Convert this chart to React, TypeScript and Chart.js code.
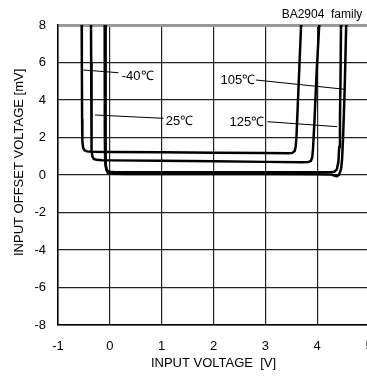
import React, { useEffect, useRef } from "react";
import { Chart, registerables } from "chart.js";

Chart.register(...registerables);

const FONT = "'Liberation Sans', Arial, sans-serif";

const xTickValues = [-1, 0, 1, 2, 3, 4, 5];
const yTickValues = [-8, -6, -4, -2, 0, 2, 4, 6, 8];

const chartTitle = "BA2904  family  ";
const xAxisTitle = "INPUT VOLTAGE  [V]";
const yAxisTitle = "INPUT OFFSET VOLTAGE [mV]";

// -40℃
const m40X = [-0.545, -0.54, -0.535, -0.53, -0.515, -0.49, -0.44, -0.35, 0, 1, 2, 3, 3.45, 3.52, 3.565, 3.585, 3.6, 3.63, 3.66, 3.69, 3.695];
const m40Y = [9, 6, 3, 1.8, 1.45, 1.32, 1.26, 1.24, 1.23, 1.21, 1.19, 1.17, 1.16, 1.18, 1.28, 1.5, 2, 4, 6, 8, 9];
// 25℃
const p25X = [-0.365, -0.36, -0.355, -0.35, -0.335, -0.31, -0.26, -0.15, 0, 1, 2, 3, 3.7, 3.83, 3.88, 3.905, 3.92, 3.95, 3.99, 4.04, 4.045];
const p25Y = [9, 6, 3, 1.3, 0.98, 0.86, 0.81, 0.79, 0.78, 0.76, 0.73, 0.7, 0.68, 0.69, 0.76, 0.95, 1.4, 3, 5.5, 8, 9];
// 105℃
const p105X = [-0.088, -0.086, -0.082, -0.075, -0.06, -0.04, 0, 0.05, 0.3, 1, 2, 3, 4, 4.28, 4.35, 4.38, 4.42, 4.46, 4.48, 4.5, 4.53, 4.56, 4.565];
const p105Y = [9, 6, 2, 0.6, 0.25, 0.12, 0.08, 0.06, 0.05, 0.05, 0.05, 0.05, 0.04, 0.02, -0.05, -0.06, 0.0, 0.3, 0.8, 2, 4.5, 8, 9];
// 125℃
const p125X = [-0.1, -0.098, -0.095, -0.09, -0.08, -0.06, -0.02, 0.1, 1, 2, 3, 4, 4.25, 4.33, 4.38, 4.41, 4.425, 4.44, 4.45, 4.46, 4.465];
const p125Y = [9, 6, 2, 0.8, 0.45, 0.25, 0.17, 0.15, 0.15, 0.15, 0.15, 0.15, 0.15, 0.17, 0.3, 0.7, 1.5, 3, 5, 8, 9];

const seriesNames = ["-40℃", "25℃", "105℃", "125℃"];
const seriesX = [m40X, p25X, p105X, p125X];
const seriesY = [m40Y, p25Y, p105Y, p125Y];

const labelTexts = ["-40℃", "25℃", "105℃", "125℃"];
const labelX = [0.23, 1.079, 2.135, 2.31];
const labelY = [5.28, 2.843, 5.07, 2.79];
const leaderX1 = [-0.512, -0.286, 2.817, 3.041];
const leaderY1 = [5.6, 3.2, 5.067, 2.843];
const leaderX2 = [0.164, 1.033, 4.535, 4.386];
const leaderY2 = [5.456, 3.024, 4.571, 2.576];

const labelPlugin = {
  id: "curveLabels",
  afterDatasetsDraw(chart: any) {
    const { ctx, scales } = chart;
    const xs = scales.x;
    const ys = scales.y;
    ctx.save();
    ctx.strokeStyle = "#000";
    ctx.lineWidth = 1;
    for (let i = 0; i < labelTexts.length; i++) {
      ctx.beginPath();
      ctx.moveTo(xs.getPixelForValue(leaderX1[i]), ys.getPixelForValue(leaderY1[i]));
      ctx.lineTo(xs.getPixelForValue(leaderX2[i]), ys.getPixelForValue(leaderY2[i]));
      ctx.stroke();
    }
    ctx.fillStyle = "#000";
    ctx.font = `13px ${FONT}`;
    ctx.textAlign = "left";
    ctx.textBaseline = "middle";
    for (let i = 0; i < labelTexts.length; i++) {
      ctx.fillText(labelTexts[i], xs.getPixelForValue(labelX[i]), ys.getPixelForValue(labelY[i]));
    }
    ctx.restore();
  },
};

export default function App() {
  const ref = useRef<HTMLCanvasElement | null>(null);
  useEffect(() => {
    if (!ref.current) return;
    const datasets = seriesNames.map((name, i) => ({
      label: name,
      data: seriesX[i].map((x, j) => ({ x, y: seriesY[i][j] })),
      showLine: true,
      pointRadius: 0,
      borderColor: "#000",
      backgroundColor: "#000",
      borderWidth: 2.5,
      fill: false,
      tension: 0,
    }));
    const chart = new Chart(ref.current, {
      type: "scatter",
      data: { datasets },
      plugins: [labelPlugin],
      options: {
        responsive: false,
        animation: false,
        devicePixelRatio: 1,
        layout: { padding: { top: 0, right: 21, left: 0, bottom: 0 } },
        plugins: {
          legend: { display: false },
          tooltip: { enabled: false },
          title: {
            display: true,
            text: chartTitle,
            align: "end",
            color: "#000",
            font: { size: 12, family: FONT, weight: "normal" },
            padding: { top: 7, bottom: 3.6 },
          },
        },
        scales: {
          x: {
            type: "linear",
            min: -1,
            max: 5,
            afterBuildTicks: (s: any) => {
              s.ticks = xTickValues.map((v) => ({ value: v }));
            },
            ticks: { color: "#000", font: { size: 13, family: FONT }, padding: 14 },
            afterFit: (s: any) => {
              s.height = 51;
            },
            grid: { display: true, drawOnChartArea: true, color: "#222", lineWidth: 1.2, drawTicks: false },
            border: { color: "#000", width: 1.5 },
            title: {
              display: true,
              text: xAxisTitle,
              color: "#000",
              font: { size: 13, family: FONT },
              padding: { top: 0, bottom: 5 },
            },
          },
          y: {
            type: "linear",
            min: -8,
            max: 8,
            afterBuildTicks: (s: any) => {
              s.ticks = yTickValues.map((v) => ({ value: v }));
            },
            afterFit: (s: any) => {
              s.width = 58;
            },
            ticks: { color: "#000", font: { size: 13, family: FONT }, padding: 12 },
            grid: {
              display: true,
              drawOnChartArea: true,
              color: (c: any) => (c.tick && c.tick.value === 8 ? "#999" : "#222"),
              lineWidth: (c: any) => (c.tick && c.tick.value === 8 ? 3 : 1.2),
              drawTicks: false,
            },
            border: { color: "#000", width: 1.5 },
            title: {
              display: true,
              text: "       " + yAxisTitle,
              color: "#000",
              font: { size: 13, family: FONT },
              padding: { top: 12, bottom: 0 },
            },
          },
        },
      } as any,
    });
    return () => chart.destroy();
  }, []);
  return (
    <div
      style={{
        position: "fixed",
        left: 0,
        top: 0,
        width: 367,
        height: 376,
        overflow: "hidden",
        background: "#fff",
      }}
    >
      <canvas ref={ref} width={390} height={376} style={{ display: "block", width: 390, height: 376 }} />
    </div>
  );
}
